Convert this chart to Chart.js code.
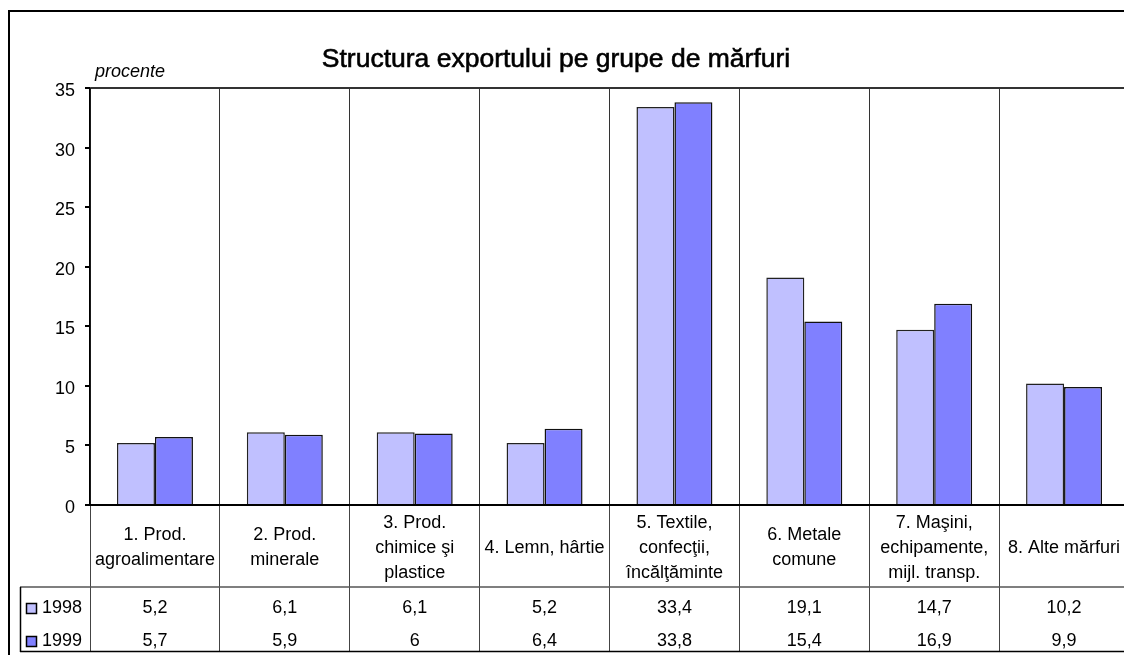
<!DOCTYPE html>
<html>
<head>
<meta charset="utf-8">
<script src="https://cdn.jsdelivr.net/npm/chart.js@4.4.1/dist/chart.umd.min.js"></script>
<style>
  html, body { margin: 0; padding: 0; background: #fff; }
  #wrap { width: 1124px; height: 655px; overflow: hidden; position: relative; }
  canvas { display: block; }
</style>
</head>
<body>
<div id="wrap"><canvas id="myChart" width="1135" height="655"></canvas></div>
<script>
const categories = [
  ['1. Prod.', 'agroalimentare'],
  ['2. Prod.', 'minerale'],
  ['3. Prod.', 'chimice şi', 'plastice'],
  ['4. Lemn, hârtie'],
  ['5. Textile,', 'confecţii,', 'încălţăminte'],
  ['6. Metale', 'comune'],
  ['7. Maşini,', 'echipamente,', 'mijl. transp.'],
  ['8. Alte mărfuri']
];
const years = ['1998', '1999'];
const values1998 = [5.2, 6.1, 6.1, 5.2, 33.4, 19.1, 14.7, 10.2];
const values1999 = [5.7, 5.9, 6, 6.4, 33.8, 15.4, 16.9, 9.9];
const yTicks = [0, 5, 10, 15, 20, 25, 30, 35];

const colors = ['#C0C0FF', '#8080FF'];
const font = "'Liberation Sans', Arial, sans-serif";

function fmt(v) {
  return String(v).replace('.', ',');
}

// title, unit label, frame and the data table under the axis
const tablePlugin = {
  id: 'tablePlugin',
  afterDraw(chart) {
    const ctx = chart.ctx;
    const x = chart.scales.x;
    const area = chart.chartArea;
    const W = chart.width;
    ctx.save();

    // frame
    ctx.strokeStyle = '#000';
    ctx.lineWidth = 2;
    ctx.beginPath();
    ctx.moveTo(9, 660);
    ctx.lineTo(9, 11);
    ctx.lineTo(W, 11);
    ctx.stroke();

    // title, slightly heavier than regular
    ctx.fillStyle = '#000';
    ctx.strokeStyle = '#000';
    ctx.lineWidth = 0.6;
    ctx.font = '26.5px ' + font;
    ctx.textAlign = 'center';
    ctx.textBaseline = 'alphabetic';
    ctx.fillText('Structura exportului pe grupe de mărfuri', 556, 67);
    ctx.strokeText('Structura exportului pe grupe de mărfuri', 556, 67);

    ctx.font = 'italic 18px ' + font;
    ctx.textAlign = 'left';
    ctx.fillText('procente', 95, 77);

    // table lines
    const rowTop = 587;
    const tableBottom = area.bottom + 147;
    ctx.strokeStyle = '#555';
    ctx.lineWidth = 1.5;
    ctx.beginPath();
    ctx.moveTo(20, rowTop);
    ctx.lineTo(W, rowTop);
    ctx.stroke();
    ctx.strokeStyle = '#000';
    ctx.beginPath();
    ctx.moveTo(20, tableBottom - 0.5);
    ctx.lineTo(W, tableBottom - 0.5);
    ctx.moveTo(20.5, rowTop);
    ctx.lineTo(20.5, tableBottom);
    ctx.stroke();

    // category labels
    ctx.font = '18px ' + font;
    ctx.textAlign = 'center';
    ctx.textBaseline = 'middle';
    const mid = (area.bottom + rowTop) / 2 + 2;
    categories.forEach((lines, i) => {
      const cx = x.getPixelForValue(i);
      lines.forEach((t, j) => {
        ctx.fillText(t, cx, mid + (j - (lines.length - 1) / 2) * 25);
      });
    });

    // value rows
    const rows = [values1998, values1999];
    const rowY = [608, 641];
    rows.forEach((vals, r) => {
      ctx.textAlign = 'center';
      vals.forEach((v, i) => {
        ctx.fillText(fmt(v), x.getPixelForValue(i), rowY[r]);
      });
      ctx.fillStyle = colors[r];
      ctx.fillRect(26, rowY[r] - 5, 11, 11);
      ctx.strokeStyle = '#000';
      ctx.lineWidth = 1.5;
      ctx.strokeRect(26.5, rowY[r] - 4.5, 10, 10);
      ctx.fillStyle = '#000';
      ctx.textAlign = 'left';
      ctx.fillText(years[r], 42, rowY[r]);
    });

    ctx.restore();
  }
};

var ctx = document.getElementById('myChart').getContext('2d');
var myChart = new Chart(ctx, {
  type: 'bar',
  data: {
    labels: categories.map(c => c.join(' ')),
    datasets: [{
      label: years[0],
      data: values1998,
      backgroundColor: colors[0],
      borderColor: '#222',
      borderWidth: 1.5,
      categoryPercentage: 0.585,
      barPercentage: 1
    }, {
      label: years[1],
      data: values1999,
      backgroundColor: colors[1],
      borderColor: '#111',
      borderWidth: 1.5,
      categoryPercentage: 0.585,
      barPercentage: 1
    }]
  },
  options: {
    responsive: false,
    animation: false,
    devicePixelRatio: 1,
    layout: {
      padding: { top: 88, left: 0, right: 6, bottom: 3 }
    },
    plugins: {
      legend: { display: false },
      tooltip: { enabled: false },
      title: { display: false }
    },
    scales: {
      x: {
        offset: true,
        ticks: { display: false },
        grid: {
          offset: true,
          color: '#333',
          lineWidth: 1,
          drawTicks: true,
          tickLength: 147,
          tickColor: '#444'
        },
        border: { display: true, color: '#000', width: 2 },
        afterFit(scale) { scale.height = 147; }
      },
      y: {
        min: 0,
        max: 35,
        afterBuildTicks(scale) { scale.ticks = yTicks.map(v => ({ value: v })); },
        ticks: {
          color: '#000',
          font: { family: font, size: 18 },
          padding: 10,
          labelOffset: 3
        },
        grid: {
          drawOnChartArea: true,
          color: c => (c.tick && c.tick.value === 35 ? '#333' : 'rgba(0,0,0,0)'),
          lineWidth: 2,
          tickColor: '#000',
          tickLength: 5
        },
        border: { display: true, color: '#000', width: 1.5 },
        afterFit(scale) { scale.width = 90; }
      }
    }
  },
  plugins: [tablePlugin]
});
</script>
</body>
</html>
